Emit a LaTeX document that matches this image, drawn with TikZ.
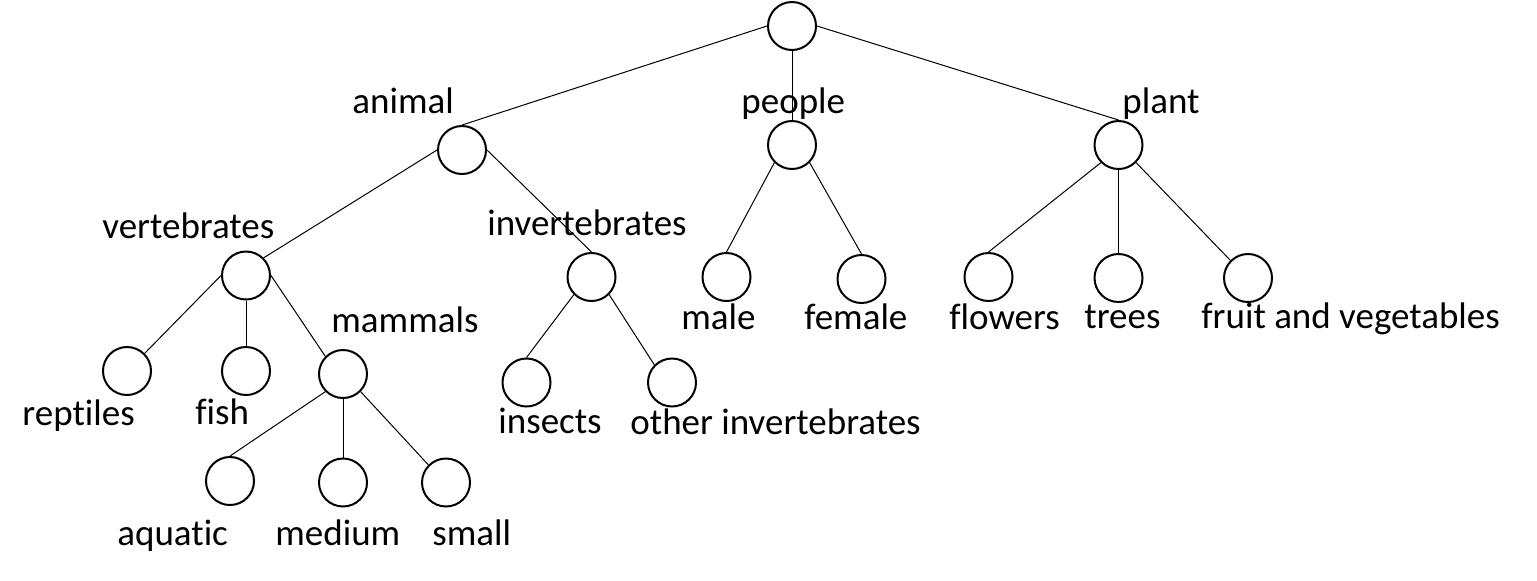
\documentclass[tikz,border=0pt]{standalone}
\usepackage{fontspec}
\setmainfont{Carlito}[Ligatures={NoCommon}]
\begin{document}
\begin{tikzpicture}[x=0.5pt,y=-0.5pt,
  nd/.style={circle, draw, line width=1pt, minimum size=24pt, inner sep=0pt},
  lbl/.style={anchor=base west, inner sep=0pt, font=\fontsize{18.5}{22}\selectfont},
  edge/.style={line width=0.5pt}]
\useasboundingbox (0,0) rectangle (1537,580);
% circles
\node[nd] (root) at (792,26) {};
\node[nd] (animal) at (462,150) {};
\node[nd] (people) at (792,145) {};
\node[nd] (plant) at (1118.5,145) {};
\node[nd] (vert) at (246,275.5) {};
\node[nd] (invert) at (591.5,277) {};
\node[nd] (male) at (726.5,277) {};
\node[nd] (female) at (861.5,279) {};
\node[nd] (flowers) at (988.5,277) {};
\node[nd] (trees) at (1118.5,278) {};
\node[nd] (fruit) at (1248,278) {};
\node[nd] (reptiles) at (127,371) {};
\node[nd] (fish) at (246,371) {};
\node[nd] (mammals) at (343,374) {};
\node[nd] (insects) at (526.5,382.5) {};
\node[nd] (other) at (672,382.5) {};
\node[nd] (aquatic) at (230,481) {};
\node[nd] (medium) at (343,482.5) {};
\node[nd] (small) at (446,482.5) {};
% labels
\node[lbl] (tanimal) at (352,113) {animal};
\node[lbl] (tpeople) at (741,113) {people};
\node[lbl] (tplant) at (1122,113) {plant};
\node[lbl] (tvert) at (102,238) {vertebrates};
\node[lbl] (tinvert) at (487,235) {invertebrates};
\node[lbl] (tmammals) at (331,332) {mammals};
\node[lbl] (treptiles) at (22,425) {reptiles};
\node[lbl] (tfish) at (195,424) {fish};
\node[lbl] (tinsects) at (498,433) {insects};
\node[lbl] (tother) at (630,434) {other invertebrates};
\node[lbl] (tmale) at (681,329) {male};
\node[lbl] (tfemale) at (804,329) {female};
\node[lbl] (tflowers) at (949,329) {flowers};
\node[lbl] (ttrees) at (1084,328) {trees};
\node[lbl] (tfruit) at (1201,328) {fruit and vegetables};
\node[lbl] (taquatic) at (117,545) {aquatic};
\node[lbl] (tmedium) at (275,545) {medium};
\node[lbl] (tsmall) at (432,545) {small};
% connectors
\draw[edge] (root.west) -- (animal.north);
\draw[edge] (root.south) -- (people.north);
\draw[edge] (root.east) -- (plant.north);
\draw[edge] (animal.west) -- (vert.north east);
\draw[edge] (animal.east) -- (invert.north);
\draw[edge] (vert.west) -- (reptiles.north east);
\draw[edge] (vert.south) -- (fish.north);
\draw[edge] (vert.east) -- (mammals.north west);
\draw[edge] (mammals.south west) -- (aquatic.north);
\draw[edge] (mammals.south) -- (medium.north);
\draw[edge] (mammals.south east) -- (small.north west);
\draw[edge] (invert.south west) -- (insects.north);
\draw[edge] (invert.south east) -- (other.north west);
\draw[edge] (people.south west) -- (male.north);
\draw[edge] (people.south east) -- (female.north);
\draw[edge] (plant.south west) -- (flowers.north);
\draw[edge] (plant.south) -- (trees.north);
\draw[edge] (plant.south east) -- (fruit.north west);
\end{tikzpicture}
\end{document}
